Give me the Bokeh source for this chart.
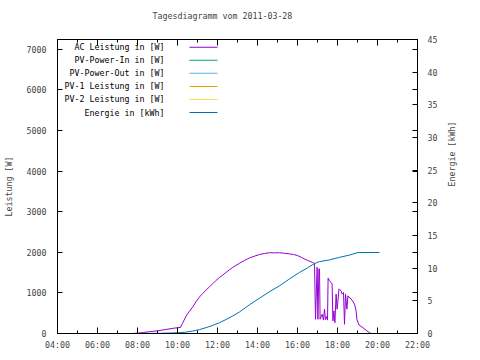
import math
from bokeh.plotting import figure
from bokeh.models import Range1d, LinearAxis, FixedTicker, Label, BoxAnnotation, CustomLabelingPolicy
from bokeh.embed import file_html
from bokeh.resources import INLINE

FONT = "DejaVu Sans Mono"
FS = "8.3px"

# ---- data ----
ac_hours = [7.77, 8.0, 8.3, 8.6, 9.0, 9.43, 9.8, 10.15, 10.25, 10.43, 10.6, 10.77, 10.95,
            11.1, 11.27, 11.43, 11.6, 11.77, 11.93, 12.1, 12.27, 12.43, 12.6, 12.77, 12.93,
            13.1, 13.35, 13.6, 13.85, 14.1, 14.35, 14.6, 14.85, 15.1, 15.35, 15.6, 15.8,
            16.0, 16.2, 16.35, 16.5, 16.6, 16.75, 16.85,
            16.9, 16.98, 17.02, 17.07, 17.10, 17.13, 17.23, 17.3, 17.35, 17.4, 17.47, 17.5,
            17.53, 17.6, 17.68, 17.73, 17.77, 17.82, 17.87, 17.93, 17.98, 18.03, 18.07,
            18.12, 18.18, 18.23, 18.3, 18.35, 18.4, 18.47, 18.52, 18.57, 18.63, 18.73,
            18.85, 18.93, 18.97, 19.07, 19.27, 19.43, 19.6, 19.68]
ac_watts = [0, 10, 25, 45, 65, 100, 130, 150, 250, 430, 550, 660, 800,
            900, 990, 1070, 1150, 1230, 1310, 1380, 1440, 1505, 1570, 1630, 1680,
            1730, 1800, 1860, 1905, 1945, 1970, 1990, 1985, 1990, 1975, 1960, 1945,
            1920, 1875, 1835, 1800, 1780, 1750, 1730,
            351, 1630, 351, 1590, 1590, 350, 475, 330, 600, 340, 420, 330,
            1366, 1300, 1257, 1220, 310, 557, 267, 970, 600, 846, 1094,
            1080, 1052, 970, 1010, 228, 970, 600, 928, 886, 880, 820,
            722, 557, 351, 210, 144, 79, 20, 0]

energy_hours = [7.8, 9.0, 10.0, 10.4, 10.77, 11.1, 11.43, 11.77, 12.1, 12.43, 12.77, 13.1,
                13.6, 14.1, 14.6, 15.1, 15.6, 16.1, 16.5, 16.85, 17.1, 17.6, 18.1, 18.6,
                19.03, 20.1]
energy_kwh = [0, 0.02, 0.1, 0.2, 0.38, 0.6, 0.9, 1.25, 1.66, 2.15, 2.7, 3.3,
              4.4, 5.4, 6.4, 7.3, 8.35, 9.35, 10.05, 10.7, 11.0, 11.26, 11.66, 12.0,
              12.4, 12.4]

legend_labels = ["AC Leistung in [W]", "PV-Power-In in [W]", "PV-Power-Out in [W]",
                 "PV-1 Leistung in [W]", "PV-2 Leistung in [W]", "Energie in [kWh]"]
legend_colors = ["#9400d3", "#009e73", "#56b4e9", "#e69f00", "#f0e442", "#0072b2"]

x_tick_hours = [4, 6, 8, 10, 12, 14, 16, 18, 20, 22]
x_tick_labels = ["04:00", "06:00", "08:00", "10:00", "12:00", "14:00", "16:00",
                 "18:00", "20:00", "22:00"]
x_minor_hours = [5, 7, 9, 11, 13, 15, 17, 19, 21]
w_ticks = [0, 1000, 2000, 3000, 4000, 5000, 6000, 7000]
kwh_ticks = [0, 5, 10, 15, 20, 25, 30, 35, 40, 45]

W_MAX = 7240
KWH_MAX = 45

p = figure(frame_width=360, frame_height=294, output_backend="svg",
           toolbar_location=None,
           x_range=Range1d(4, 22), y_range=Range1d(0, W_MAX),
           min_border_left=50, min_border_right=54, min_border_top=31,
           min_border_bottom=19,
           title="Tagesdiagramm vom 2011-03-28")
p.extra_y_ranges = {"energy": Range1d(0, KWH_MAX)}

p.title.text_font = FONT
p.title.text_font_size = FS
p.title.text_font_style = "normal"
p.title.align = "left"
p.title.offset = 95
p.title.standoff = 17
p.grid.visible = False
p.outline_line_color = "black"
p.background_fill_color = "white"
p.border_fill_color = "white"


def style(ax):
    ax.axis_line_color = "black"
    ax.major_tick_line_color = "black"
    ax.minor_tick_line_color = "black"
    ax.major_tick_out = 0
    ax.minor_tick_out = 0
    ax.major_label_text_font = FONT
    ax.major_label_text_font_size = FS
    ax.axis_label_text_font = FONT
    ax.axis_label_text_font_size = FS
    ax.axis_label_text_font_style = "normal"


xax = p.xaxis[0]
style(xax)
xax.ticker = FixedTicker(ticks=x_tick_hours, minor_ticks=x_minor_hours)
xax.major_label_overrides = dict(zip(x_tick_hours, x_tick_labels))
xax.major_tick_in = 6
xax.minor_tick_in = 3
xax.major_label_standoff = 6

# mirrored ticks on the top border, no labels
top = LinearAxis(ticker=FixedTicker(ticks=x_tick_hours, minor_ticks=x_minor_hours))
style(top)
top.major_tick_in = 6
top.minor_tick_in = 3
top.major_label_standoff = 0
top.major_label_policy = CustomLabelingPolicy(
    code="for (const i of indices) { indices.unset(i) } return indices")
p.add_layout(top, "above")

yax = p.yaxis[0]
style(yax)
yax.ticker = FixedTicker(ticks=w_ticks)
yax.major_tick_in = 5
yax.minor_tick_in = 0
yax.major_label_standoff = 11
yax.axis_label = "Leistung [W]"
yax.axis_label_standoff = 10

y2 = LinearAxis(y_range_name="energy",
                ticker=FixedTicker(ticks=kwh_ticks,
                                   minor_ticks=[w * KWH_MAX / W_MAX for w in w_ticks[1:]]))
style(y2)
y2.major_tick_in = 5
y2.minor_tick_in = 5
y2.major_label_standoff = 10
y2.axis_label = "Energie [kWh]"
y2.axis_label_standoff = 12
try:
    y2.axis_label_orientation = math.pi / 2
except Exception:
    pass
p.add_layout(y2, "right")

p.line(ac_hours, ac_watts, line_color=legend_colors[0], line_width=1)
p.line(energy_hours, energy_kwh, line_color=legend_colors[5], line_width=1,
       y_range_name="energy")

# ---- legend (gnuplot style: label then sample) ----
for i, (lab, col) in enumerate(zip(legend_labels, legend_colors)):
    ys = 294 - 7.7 - 13.06 * i
    p.add_layout(Label(x=107, y=ys, x_units="screen", y_units="screen", text=lab,
                       text_font=FONT, text_font_size=FS, text_align="right",
                       text_baseline="middle", text_color="black"))
    p.add_layout(BoxAnnotation(left=132, right=160, bottom=ys - 0.5, top=ys + 0.5,
                               left_units="screen", right_units="screen",
                               bottom_units="screen", top_units="screen",
                               fill_color=col, fill_alpha=1.0, line_alpha=0))

open("out.html", "w").write(file_html(p, INLINE))
